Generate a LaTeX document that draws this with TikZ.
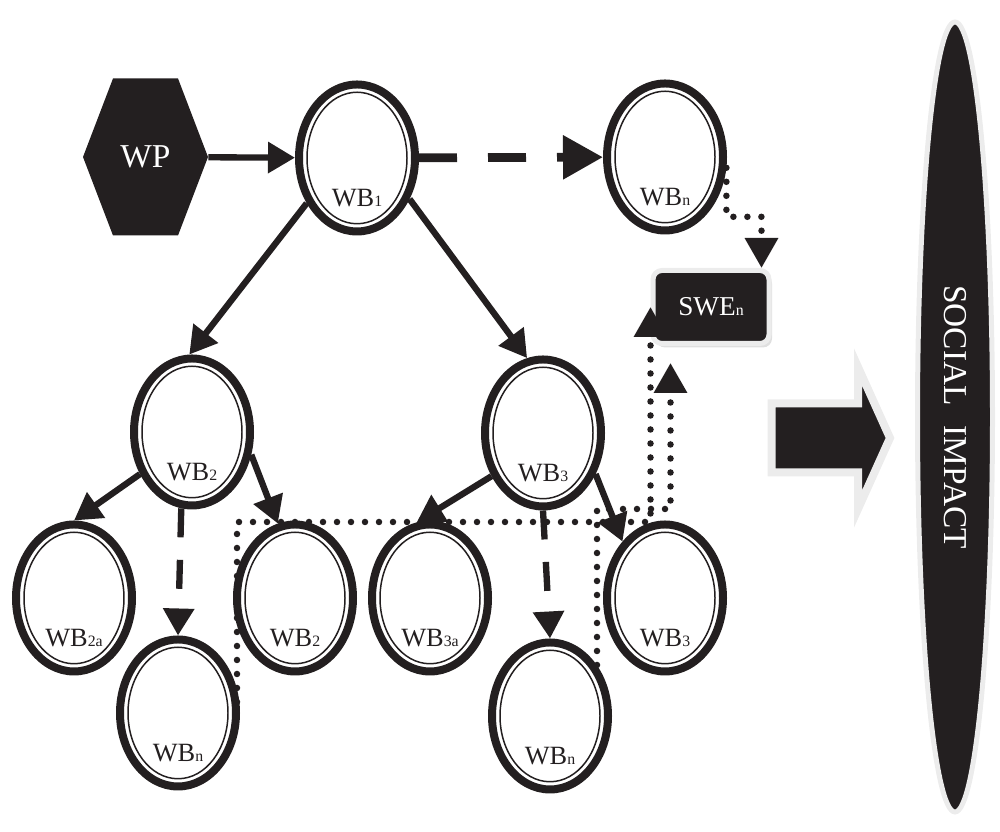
\documentclass[tikz,border=0pt]{standalone}
\usepackage{fontspec}
\setmainfont{Liberation Serif}
\usetikzlibrary{arrows.meta,shapes.geometric,shadows}
\definecolor{ink}{HTML}{231F20}
\definecolor{rim}{HTML}{ECECEC}
\newcommand{\subix}[1]{{\fontsize{9}{9}\selectfont #1}}

\begin{document}
\begin{tikzpicture}[
  >={Triangle[length=0.54cm,width=0.6cm]},
  wb/.style={ellipse, draw=ink, line width=0.16cm, minimum width=2.32cm, minimum height=2.94cm, inner sep=0pt,
    path picture={\draw[ink, line width=0.85pt] (path picture bounding box.center) ellipse [x radius=1.0cm, y radius=1.315cm];}},
  wblabel/.style={text=ink, font=\fontsize{15}{15}\selectfont, yshift=-0.8cm},
  hexnode/.style={minimum width=2.5cm, minimum height=3.14cm, inner sep=0pt, text=white, font=\fontsize{19}{19}\selectfont,
    path picture={\fill[ink] (path picture bounding box.west) -- ([xshift=0.6cm]path picture bounding box.north west)
      -- ([xshift=-0.6cm]path picture bounding box.north east) -- (path picture bounding box.east)
      -- ([xshift=-0.6cm]path picture bounding box.south east) -- ([xshift=0.6cm]path picture bounding box.south west) -- cycle;}},
  swebox/.style={rectangle, rounded corners=0.18cm, fill=ink, draw=rim, line width=0.1cm, minimum width=2.32cm, minimum height=1.46cm,
    text=white, font=\fontsize{15.5}{15.5}\selectfont, drop shadow={shadow xshift=0.06cm, shadow yshift=-0.08cm, opacity=0.25}},
  impactb/.style={ellipse, rotate=-90, fill=ink, draw=rim, line width=0.1cm, minimum width=15.8cm, minimum height=1.5cm, inner sep=0pt,
    text=white, font=\fontsize{19}{19}\selectfont},
  link/.style={draw=ink, line width=3.6pt},
  dlink/.style={link, dash pattern=on 0.58cm off 0.45cm},
  dotlink/.style={draw=ink, line width=3.7pt, line cap=round, dash pattern=on 0pt off 0.28cm, -{Triangle[length=0.6cm,width=0.64cm]}}
]
\useasboundingbox (0,0) rectangle (20,16.64);

% top row
\node[hexnode] (wp) at (2.91,13.5) {WP};
\node[wb, label={[wblabel]center:WB\subix{1}}] (wb1) at (7.14,13.48) {};
\node[wb, label={[wblabel]center:WB\subix{n}}] (wbtop) at (13.3,13.5) {};
\node[swebox] (swe) at (14.22,10.5) {SWE\subix{n}};

% second and third level
\node[wb, label={[wblabel]center:WB\subix{2}}] (wb2) at (3.84,8.0) {};
\node[wb, label={[wblabel]center:WB\subix{3}}] (wb3) at (10.86,7.98) {};
\node[wb, label={[wblabel]center:WB\subix{2a}}] (wb2a) at (1.48,4.68) {};
\node[wb, label={[wblabel]center:WB\subix{2}}] (wb2b) at (5.9,4.68) {};
\node[wb, label={[wblabel]center:WB\subix{3a}}] (wb3a) at (8.6,4.68) {};
\node[wb, label={[wblabel]center:WB\subix{3}}] (wb3b) at (13.3,4.68) {};
\node[wb, label={[wblabel]center:WB\subix{n}}] (wbnl) at (3.56,2.38) {};
\node[wb, label={[wblabel]center:WB\subix{n}}] (wbnr) at (11.0,2.32) {};

\node[impactb] (impact) at (19.1,8.3) {SOCIAL\hspace{0.6em}IMPACT};

\draw[link, ->] (wp) -- (wb1);
\draw[link, line width=5pt, dash pattern=on 0.76cm off 0.62cm, -{Triangle[length=0.8cm,width=0.84cm]}] (wb1) -- (wbtop);
\draw[link, ->] (wb1.222) -- (wb2.92);
\draw[link, ->] (wb1.322) -- (wb3.102);
\draw[link, ->] (wb2.219) -- (wb2a.north);
\draw[link, ->] (wb2.339) -- (wb2b.103);
\draw[dlink, ->] (wb2.262) -- (wbnl.north);
\draw[link, ->] (wb3.220) -- (wb3a.100);
\draw[link, ->] (wb3.322) -- (wb3b.127);
\draw[dlink, ->] (wb3.south) -- (wbnr.north);

% dotted feedback to SWE
\coordinate (ga) at (4.74,2.6);
\coordinate (gb) at (11.94,3.34);
\draw[dotlink] (wbtop.-10) -- ++(0,-0.98) -| ([xshift=-0.2cm]swe.north east);
\draw[dotlink] (ga) -- ++(0,3.6) -| (swe.west);
\draw[dotlink] (gb) -- ++(0,3.12) -| ([xshift=0.4cm,yshift=-0.34cm]swe.south west);

% block arrow towards the impact
\filldraw[fill=ink, draw=rim, line width=0.16cm, miter limit=25] (15.43,8.57) -- (17.16,8.57) -- (17.16,9.3) -- (17.8,7.88)
  -- (17.16,6.46) -- (17.16,7.19) -- (15.43,7.19) -- cycle;

\end{tikzpicture}
\end{document}
